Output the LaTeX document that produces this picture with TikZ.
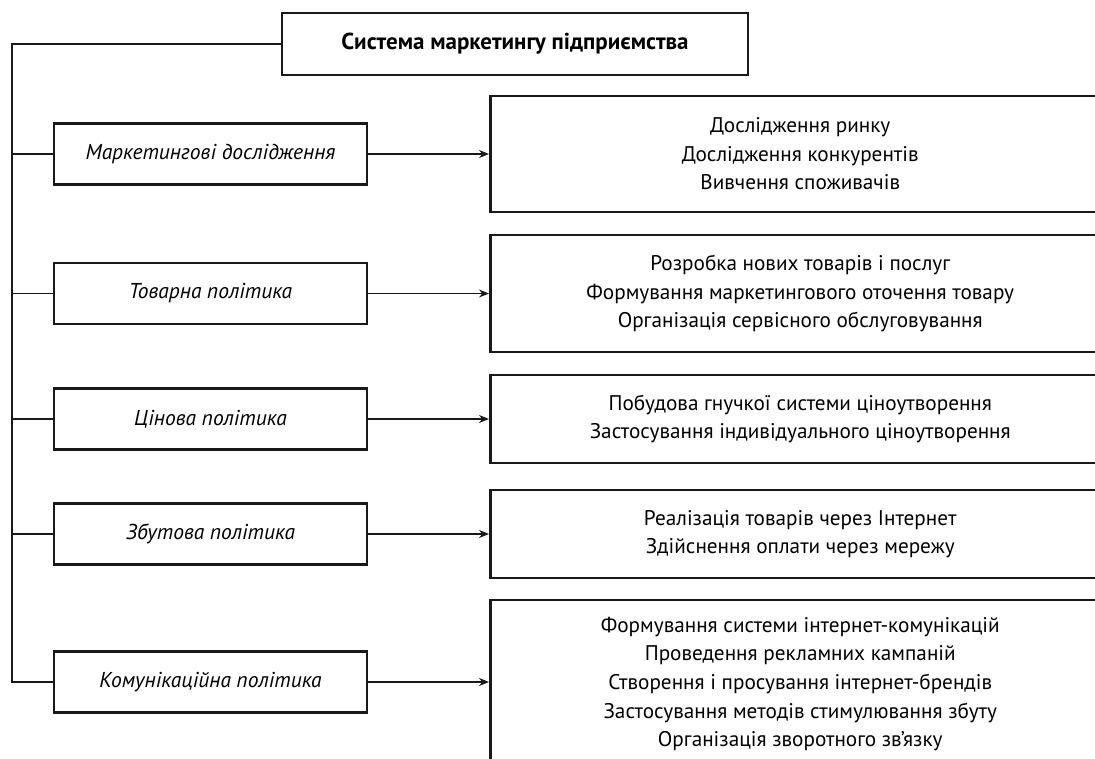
\documentclass[tikz,border=0pt]{standalone}
\usepackage{fontspec}
\setmainfont{PT Sans}
\usetikzlibrary{arrows.meta}
\begin{document}
\begin{tikzpicture}[x=1pt,y=-1pt,
  box/.style={draw=black!90,line width=2.5pt,inner sep=0pt,align=center},
  leftbox/.style={box,minimum width=313pt,minimum height=61pt,font=\fontsize{21.5}{24}\selectfont\itshape},
  rightbox/.style={box,anchor=west,minimum width=620pt,font=\fontsize{21.2}{28.6}\selectfont},
  conn/.style={line width=1.9pt,draw=black!90},
  arr/.style={conn,-{Stealth[length=10pt,width=8pt]}}
]
\useasboundingbox (0,0) rectangle (1095,758);
\clip (0,0) rectangle (1095,758);
\fill[white] (0,0) rectangle (1095,758);

\node[box,minimum width=466pt,minimum height=62pt,font=\fontsize{23}{24}\selectfont\bfseries] (top) at (515,44) {Система маркетингу підприємства};

\node[leftbox] (l1) at (210.5,154) {Маркетингові дослідження};
\node[leftbox] (l2) at (210.5,293.5) {Товарна політика};
\node[leftbox] (l3) at (210.5,419) {Цінова політика};
\node[leftbox] (l4) at (210.5,534) {Збутова політика};
\node[leftbox] (l5) at (210.5,682) {Комунікаційна політика};

\node[rightbox,minimum height=116pt] (r1) at (489,154) {Дослідження ринку\\Дослідження конкурентів\\Вивчення споживачів};
\node[rightbox,minimum height=117pt] (r2) at (489,293.5) {Розробка нових товарів і послуг\\Формування маркетингового оточення товару\\Організація сервісного обслуговування};
\node[rightbox,minimum height=88pt] (r3) at (489,419) {Побудова гнучкої системи ціноутворення\\Застосування індивідуального ціноутворення};
\node[rightbox,minimum height=88pt] (r4) at (489,534) {Реалізація товарів через Інтернет\\Здійснення оплати через мережу};
\node[rightbox,minimum height=168pt] (r5) at (489,684) {Формування системи інтернет-комунікацій\\Проведення рекламних кампаній\\Створення і просування інтернет-брендів\\Застосування методів стимулювання збуту\\Організація зворотного зв’язку};

\coordinate (busTop) at (12,44);
\coordinate (busBot) at (12,682);
\draw[conn] (top.west) -- (busTop) -- (busBot) -- (l5.west);
\foreach \i in {1,2,3,4}{
  \draw[conn] (busTop |- l\i.west) -- (l\i.west);
}
\draw[arr] (l1.east) -- (l1.east -| r1.west);
\draw[arr] (l2.east) -- (l2.east -| r2.west);
\draw[arr] (l3.east) -- (l3.east -| r3.west);
\draw[arr] (l4.east) -- (l4.east -| r4.west);
\draw[arr] (l5.east) -- (l5.east -| r5.west);
\end{tikzpicture}
\end{document}
